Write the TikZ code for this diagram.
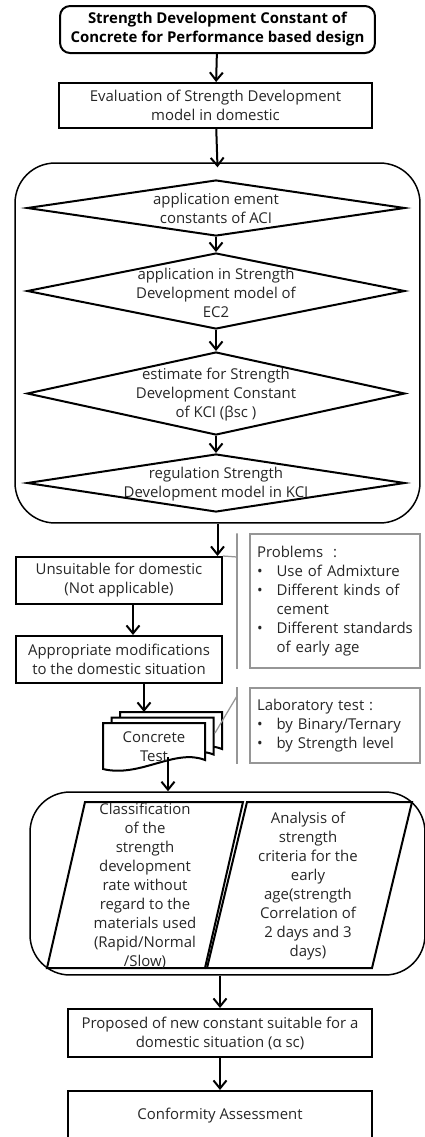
\documentclass[tikz,border=0pt]{standalone}
\usepackage{fontspec}
\setmainfont{Open Sans}
\usetikzlibrary{shapes.geometric,arrows.meta}
\tikzset{
    flowbox/.style={shape=rectangle,draw,line width=0.04cm,align=center,inner sep=0pt,font=\fontsize{8.5}{10.8}\selectfont,text=black!85},
    flowdec/.style={shape=diamond,draw,line width=0.04cm,inner sep=0pt,minimum width=7.56cm},
    flowtext/.style={align=center,inner sep=0pt,font=\fontsize{8.5}{10.8}\selectfont,text=black!85},
    flowgroup/.style={shape=rectangle,draw,line width=0.03cm,rounded corners=0.8cm},
    flowio/.style={line width=0.04cm},
    notebox/.style={shape=rectangle,draw=flow_note,line width=0.03cm,align=left,inner xsep=0.14cm,text width=3.12cm,font=\fontsize{8.5}{10.8}\selectfont,text=black!85},
    noteline/.style={draw=flow_note,line width=0.025cm},
    flowarrow/.style={line width=0.04cm,-{Straight Barb[length=1.6mm,width=2.6mm,line width=0.04cm]}}
}
\begin{document}
\begin{tikzpicture}[x=0.02cm,y=-0.02cm]
    \definecolor{flow_note}{RGB}{150,150,150}
    \useasboundingbox (0,0) rectangle (424,1137);
    \node[flowbox,rounded corners=0.2cm,minimum width=6.3cm,minimum height=0.94cm,font=\fontsize{8.5}{10.8}\selectfont\bfseries,text=black] (title) at (217.5,29.5) {Strength Development Constant of\\Concrete for Performance based design};
    \node[flowbox,minimum width=6.26cm,minimum height=0.9cm] (eval) at (215.5,105.5) {Evaluation of Strength Development\\model in domestic};
    \node[flowgroup,minimum width=8.1cm,minimum height=7.2cm] (group1) at (217.5,343) {};
    \node[flowdec,minimum height=1.12cm] (aci) at (216,208) {};
    \node[flowdec,minimum height=1.52cm] (ectwo) at (216,291) {};
    \node[flowdec,minimum height=1.66cm] (kcibeta) at (216,393.5) {};
    \node[flowdec,minimum height=1.16cm] (kcimodel) at (216,483) {};
    \node[flowtext] (acitext) at (216,208.5) {application ement\\constants of ACI};
    \node[flowtext] (ectwotext) at (216,293) {application in Strength\\Development model of\\EC2};
    \node[flowtext] (kcibetatext) at (216,395) {estimate for Strength\\Development Constant\\of KCI (βsc~)};
    \node[flowtext] (kcimodeltext) at (216,484) {regulation Strength\\Development model in KCI};
    \node[flowbox,minimum width=4.12cm,minimum height=0.94cm] (unsuit) at (119,580.5) {Unsuitable for domestic\\(Not applicable)};
    \node[flowbox,minimum width=4.12cm,minimum height=0.94cm] (modify) at (119,659.5) {Appropriate modifications\\to the domestic situation};
    \node[notebox,minimum width=3.4cm,minimum height=2.68cm] (problems) at (335,601) {\begin{tabular}{@{}l@{\hspace{0.28cm}}l@{}}
        \multicolumn{2}{@{}l@{}}{Problems\ \ :}\\
        \textbullet & Use of Admixture\\
        \textbullet & Different kinds of\\
        & cement\\
        \textbullet & Different standards\\
        & of early age
    \end{tabular}};
    \foreach \dx/\dy in {17/-11,8.5/-5.5,0/0}
        \draw[line width=0.04cm,fill=white,shift={(\dx,\dy)}] (103,723) -- (205,723) -- (205,760) .. controls (175,748) and (140,778) .. (103,769) -- cycle;
    \node[flowtext] (test) at (154,747) {Concrete\\Test};
    \coordinate (testin) at (144,712);
    \coordinate (testout) at (168,757);
    \node[notebox,minimum width=3.4cm,minimum height=1.5cm] (lab) at (335,725.5) {\begin{tabular}{@{}l@{\hspace{0.28cm}}l@{}}
        \multicolumn{2}{@{}l@{}}{Laboratory test :}\\
        \textbullet & by Binary/Ternary\\
        \textbullet & by Strength level
    \end{tabular}};
    \node[flowgroup,minimum width=7.9cm,minimum height=3.66cm] (group2) at (227.5,883.5) {};
    \draw[flowio] (85,802) -- (243,802) -- (205,968) -- (47,968) -- cycle;
    \draw[flowio] (247,802) -- (412,802) -- (372,968) -- (207,968) -- cycle;
    \node[flowtext] (classify) at (145,886) {Classification\\of the\\strength\\development\\rate without\\regard to the\\materials used\\(Rapid/Normal\\/Slow)};
    \node[flowtext] (analysis) at (308,886) {Analysis of\\strength\\criteria for the\\early\\age(strength\\Correlation of\\2 days and 3\\days)};
    \node[flowbox,minimum width=6.08cm,minimum height=0.96cm] (proposal) at (220,1033) {Proposed of new constant suitable for a\\domestic situation (α sc)};
    \node[flowbox,minimum width=6.08cm,minimum height=1.0cm] (conform) at (220,1116) {Conformity Assessment};
    \draw[flowarrow] (title) -- (eval);
    \draw[flowarrow] (eval) -- ([yshift=-0.1cm]group1.north);
    \draw[flowarrow] (aci) -- (ectwo);
    \draw[flowarrow] (ectwo) -- (kcibeta);
    \draw[flowarrow] (kcibeta) -- (kcimodel);
    \draw[flowarrow] (group1.south) -- (group1.south |- unsuit.north);
    \draw[flowarrow] ([xshift=0.28cm]unsuit.south) -- ([xshift=0.28cm]modify.north);
    \draw[flowarrow] (modify.south -| testin) -- (testin);
    \draw[flowarrow] (testout) -- (testout |- group2.north);
    \draw[flowarrow] (group2.south -| proposal.north) -- (proposal.north);
    \draw[flowarrow] (proposal) -- (conform);
    \draw[noteline] (unsuit.north east) -- (237,557);
    \draw[noteline] (237,557) -- (237,557 |- problems.north) -- (237,557 |- problems.south);
    \draw[noteline] (215,733) -- (237,696);
    \draw[noteline] (237,696 |- lab.north) -- (237,696 |- lab.south);
\end{tikzpicture}
\end{document}
